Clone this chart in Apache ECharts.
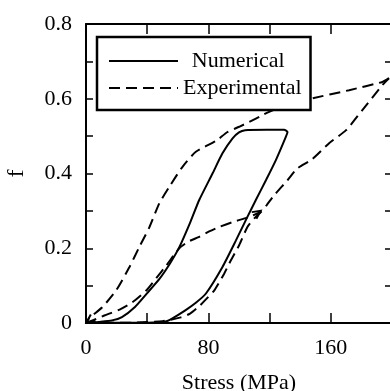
<!DOCTYPE html>
<html>
<head>
<meta charset="utf-8">
<script src="https://cdn.jsdelivr.net/npm/echarts@6/dist/echarts.min.js"></script>
<style>
  html, body { margin: 0; padding: 0; background: #fff; }
  #chart { width: 390px; height: 391px; }
</style>
</head>
<body>
<div id="chart"></div>
<script>
// numerical loop: loading branch, flat top, unloading branch back to origin
const numerical = [
  [0, 0], [8, 0.003], [17, 0.007], [23.5, 0.016], [32, 0.043], [40, 0.08], [48, 0.118],
  [55, 0.16], [61, 0.203], [68, 0.268], [74, 0.329], [82.7, 0.4], [89.2, 0.454],
  [95.8, 0.494], [100, 0.51], [104, 0.516], [118, 0.517], [129.5, 0.517], [131.7, 0.511],
  [130.6, 0.498], [124.1, 0.436], [117.6, 0.382], [111, 0.329], [105.5, 0.284], [98, 0.221],
  [89.2, 0.15], [78.4, 0.079], [72, 0.055], [64.9, 0.034], [56.2, 0.012], [51.8, 0.004],
  [40, 0.001], [0, 0]
];

// experimental main loop, loading (right branch)
const expLoading = [
  [0, 0], [30, 0.001], [50, 0.005], [62, 0.015], [68, 0.025], [74, 0.045], [80, 0.07],
  [84, 0.088], [90.3, 0.132], [94.7, 0.168], [100.1, 0.208], [105.5, 0.257], [110, 0.28],
  [114.3, 0.297], [118, 0.315], [123, 0.342], [131.7, 0.382], [138, 0.413], [147.8, 0.438],
  [158.9, 0.481], [170, 0.516], [180.5, 0.569], [193.6, 0.636], [198, 0.655]
];

// experimental main loop, unloading (upper left branch)
const expUnloading = [
  [198, 0.655], [193.7, 0.645], [172, 0.623], [148, 0.601], [130.8, 0.583], [119.7, 0.565],
  [115.3, 0.556], [106.7, 0.538], [100.1, 0.525], [92.5, 0.511], [84.9, 0.487], [71.8, 0.458],
  [63.1, 0.418], [54.4, 0.364], [47.9, 0.32], [41.4, 0.256], [34.8, 0.203], [28.3, 0.149],
  [19.8, 0.088], [10.6, 0.042], [2.2, 0.013], [0, 0]
];

// experimental partial loading curve joining the main loop
const expPartial = [
  [0, 0], [5, 0.008], [12, 0.02], [22, 0.036], [30.2, 0.055], [39.4, 0.087], [45.9, 0.12],
  [52.5, 0.154], [61, 0.2], [67, 0.218], [73.6, 0.23], [80.5, 0.245], [87.1, 0.257],
  [95.8, 0.27], [106.7, 0.284], [114.3, 0.297]
];

// where the direction arrows sit
const arrowPartialEnd = [112, 0.294];
const arrowOrigin = [2.5, 0.008];

const xTickLabels = [0, 80, 160];
const yTickLabels = [0, 0.2, 0.4, 0.6, 0.8];

const FONT = 'Liberation Serif';
const chart = echarts.init(document.getElementById('chart'));

function xLabel(v) {
  return xTickLabels.indexOf(Math.round(v)) >= 0 ? String(Math.round(v)) : '';
}
function yLabel(v) {
  const r = Math.round(v * 10) / 10;
  if (yTickLabels.indexOf(r) < 0) return '';
  return r === 0 ? '0' : r.toFixed(1);
}

const axisLine = { onZero: false, lineStyle: { color: '#000', width: 2 } };
const xTick = { inside: true, length: 10, lineStyle: { color: '#000', width: 1.5 } };
const yTick = { inside: true, length: 7, lineStyle: { color: '#000', width: 1.5 } };

const dashed = { color: '#000', width: 2, type: [11, 6] };

// open chevron pointing to +x
const CHEVRON = 'path://M0,0 L10,5 L0,10';
const arrowStyle = { color: 'none', borderColor: '#000', borderWidth: 2 };

chart.setOption({
  animation: false,
  backgroundColor: '#fff',
  grid: { left: 86, top: 24, right: -2, bottom: 68, outerBoundsMode: 'none' },
  legend: {
    orient: 'vertical',
    left: 97,
    top: 37,
    padding: [13, 9, 11, 11],
    itemWidth: 69,
    itemHeight: 2,
    itemGap: 5,
    borderColor: '#000',
    borderWidth: 2.5,
    backgroundColor: '#fff',
    itemStyle: { opacity: 0 },
    formatter: name => name === 'Numerical' ? '\u2009\u2009' + name : name,
    textStyle: { fontFamily: FONT, fontSize: 22, color: '#000' },
    data: ['Numerical', 'Experimental']
  },
  xAxis: [
    {
      type: 'value', min: 0, max: 200, interval: 40, position: 'bottom',
      axisLine: axisLine, axisTick: xTick,
      axisLabel: { formatter: xLabel, fontFamily: FONT, fontSize: 22, color: '#000', margin: 14 },
      splitLine: { show: false },
      name: 'Stress (MPa)', nameLocation: 'middle', nameGap: 49,
      nameTextStyle: { fontFamily: FONT, fontSize: 22, color: '#000' }
    },
    {
      type: 'value', min: 0, max: 200, interval: 40, position: 'top',
      axisLine: axisLine, axisTick: xTick,
      axisLabel: { show: false },
      splitLine: { show: false }
    }
  ],
  yAxis: [
    {
      type: 'value', min: 0, max: 0.8, interval: 0.1, position: 'left',
      axisLine: axisLine, axisTick: yTick,
      axisLabel: { formatter: yLabel, fontFamily: FONT, fontSize: 22, color: '#000', margin: 14 },
      splitLine: { show: false },
      name: 'f', nameLocation: 'middle', nameGap: 57,
      nameTextStyle: { fontFamily: FONT, fontSize: 24, color: '#000' }
    },
    {
      type: 'value', min: 0, max: 0.8, interval: 0.1, position: 'right',
      axisLine: axisLine, axisTick: yTick,
      axisLabel: { show: false },
      splitLine: { show: false }
    }
  ],
  series: [
    { name: 'Numerical', type: 'line', data: numerical, symbol: 'none', smooth: 0.2,
      lineStyle: { color: '#000', width: 2 }, itemStyle: { color: '#000' } },
    { name: 'Experimental', type: 'line', data: expLoading, symbol: 'none', smooth: 0.2,
      lineStyle: dashed, itemStyle: { color: '#000' } },
    { name: 'Experimental', type: 'line', data: expUnloading, symbol: 'none', smooth: 0.2,
      lineStyle: dashed, itemStyle: { color: '#000' },
      markPoint: {
        symbol: CHEVRON, symbolSize: [8, 8], symbolRotate: 215,
        itemStyle: arrowStyle, label: { show: false },
        data: [{ coord: arrowOrigin }]
      } },
    { name: 'Experimental', type: 'line', data: expPartial, symbol: 'none', smooth: 0.2,
      lineStyle: dashed, itemStyle: { color: '#000' },
      markPoint: {
        symbol: CHEVRON, symbolSize: [8, 8], symbolRotate: 35,
        itemStyle: arrowStyle, label: { show: false },
        data: [{ coord: arrowPartialEnd }]
      } }
  ]
});
</script>
</body>
</html>
